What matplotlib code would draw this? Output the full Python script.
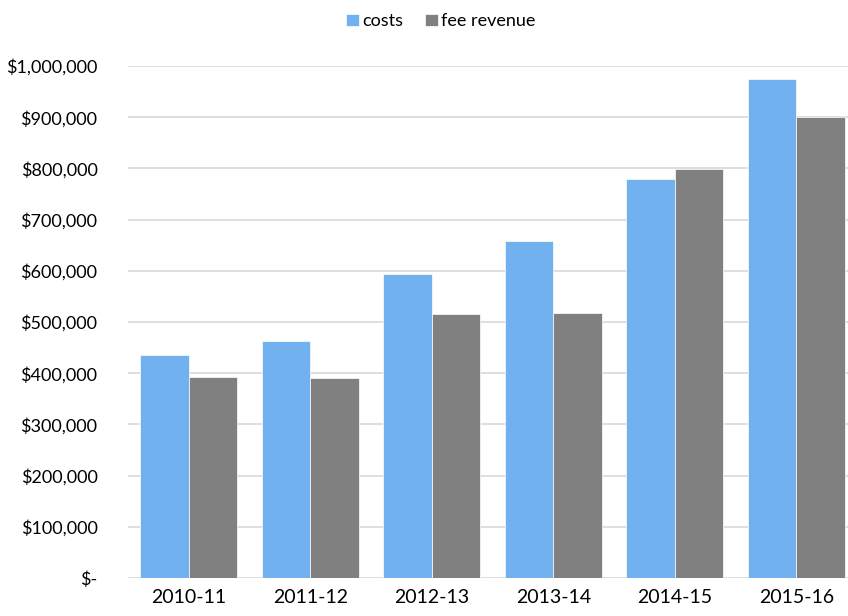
import numpy as np
import matplotlib
matplotlib.use('Agg')
import matplotlib.pyplot as plt
from matplotlib.ticker import FuncFormatter

years = ['2010-11', '2011-12', '2012-13', '2013-14', '2014-15', '2015-16']
costs = [435500, 463000, 593700, 658200, 779300, 974600]
fee_revenue = [392600, 390600, 515600, 517600, 798800, 900400]

plt.rcParams['font.family'] = ['Lato', 'DejaVu Sans']

fig = plt.figure(figsize=(8.48, 6.16), dpi=100)
# axes run slightly past the right edge, like the original
ax = fig.add_axes([128 / 848, 1 - 578 / 616, 729 / 848, 512 / 616])

ind = np.arange(len(years))
width = 0.4
ax.bar(ind - width / 2, costs, width, color='#71b1f0', label='costs',
       edgecolor='white', linewidth=0.5, zorder=3)
ax.bar(ind + width / 2, fee_revenue, width, color='#808080', label='fee revenue',
       edgecolor='white', linewidth=0.5, zorder=3)

ax.set_xlim(-0.5, len(years) - 0.5)
ax.set_ylim(0, 1000000)
ax.set_yticks(np.arange(0, 1000001, 100000))
ax.yaxis.set_major_formatter(FuncFormatter(lambda v, p: '$-' if v == 0 else '${:,.0f}'.format(v)))
ax.set_xticks(ind)
ax.set_xticklabels(years)
ax.grid(axis='y', color='#d9d9d9', linewidth=1.2, zorder=0)
for s in ax.spines.values():
    s.set_visible(False)
ax.tick_params(axis='both', length=0, labelsize=13, colors='black')
ax.tick_params(axis='x', labelsize=14, pad=8)
ax.tick_params(axis='y', pad=22)

fig.legend(loc='upper center', bbox_to_anchor=(0.52, 1.005), ncol=2, frameon=False,
           fontsize=13, handlelength=0.7, handleheight=0.7, handletextpad=0.2,
           columnspacing=1.2)

fig.savefig('out.png', dpi=100)
